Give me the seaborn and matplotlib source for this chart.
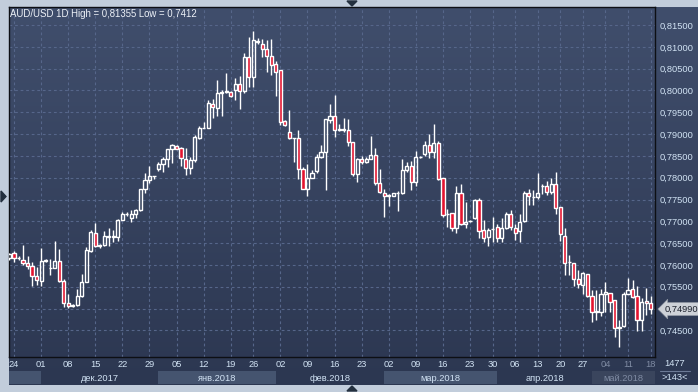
import numpy as np
import matplotlib
matplotlib.use("Agg")
import matplotlib.pyplot as plt
import matplotlib.transforms as mtransforms
from matplotlib.colors import LinearSegmentedColormap
from matplotlib.patches import Polygon
import seaborn as sns

# AUD/USD daily candles (first one is cut by the left edge of the chart)
opens = [0.7617, 0.7627, 0.7616, 0.7611, 0.7604, 0.7597, 0.7574, 0.7563, 0.7610, 0.7592,
         0.7593, 0.7609, 0.7563, 0.7513, 0.7507, 0.7509, 0.7529, 0.7561, 0.7633, 0.7673,
         0.7644, 0.7646, 0.7665, 0.7665, 0.7665, 0.7704, 0.7716, 0.7707, 0.7717, 0.7726,
         0.7774, 0.7794, 0.7805, 0.7819, 0.7832, 0.7842, 0.7865, 0.7873, 0.7869, 0.7844,
         0.7823, 0.7840, 0.7890, 0.7914, 0.7915, 0.7970, 0.7960, 0.7995, 0.7996, 0.7997,
         0.8001, 0.8016, 0.7999, 0.8076, 0.8031, 0.8112, 0.8106, 0.8096, 0.8079, 0.8060,
         0.8047, 0.7929, 0.7904, 0.7890, 0.7892, 0.7821, 0.7775, 0.7800, 0.7816, 0.7848,
         0.7860, 0.7933, 0.7941, 0.7910, 0.7911, 0.7910, 0.7881, 0.7808, 0.7844, 0.7835,
         0.7844, 0.7851, 0.7787, 0.7766, 0.7759, 0.7758, 0.7764, 0.7766, 0.7817, 0.7826,
         0.7791, 0.7847, 0.7854, 0.7874, 0.7860, 0.7879, 0.7799, 0.7716, 0.7719, 0.7684,
         0.7765, 0.7695, 0.7700, 0.7708, 0.7750, 0.7681, 0.7665, 0.7682, 0.7687, 0.7662,
         0.7685, 0.7716, 0.7685, 0.7678, 0.7700, 0.7764, 0.7757, 0.7757, 0.7781, 0.7781,
         0.7767, 0.7786, 0.7733, 0.7667, 0.7606, 0.7605, 0.7567, 0.7554, 0.7579, 0.7530,
         0.7493, 0.7493, 0.7533, 0.7535, 0.7519, 0.7455, 0.7460, 0.7534, 0.7544, 0.7528,
         0.7473, 0.7517, 0.7512]
highs = [0.7628, 0.7633, 0.7620, 0.7646, 0.7620, 0.7606, 0.7595, 0.7639, 0.7613, 0.7613,
         0.7654, 0.7636, 0.7568, 0.7534, 0.7511, 0.7545, 0.7580, 0.7641, 0.7680, 0.7696,
         0.7648, 0.7677, 0.7685, 0.7681, 0.7705, 0.7722, 0.7721, 0.7726, 0.7729, 0.7775,
         0.7812, 0.7826, 0.7805, 0.7836, 0.7847, 0.7867, 0.7878, 0.7876, 0.7871, 0.7869,
         0.7848, 0.7897, 0.7918, 0.7927, 0.7979, 0.7981, 0.8025, 0.8000, 0.8039, 0.7999,
         0.8028, 0.8033, 0.8087, 0.8122, 0.81355, 0.8120, 0.8119, 0.8115, 0.8119, 0.8068,
         0.8047, 0.7932, 0.7955, 0.7892, 0.7910, 0.7825, 0.7831, 0.7818, 0.7854, 0.7875,
         0.7934, 0.7969, 0.7989, 0.7923, 0.7936, 0.7934, 0.7881, 0.7846, 0.7850, 0.7848,
         0.7896, 0.7869, 0.7819, 0.7774, 0.7762, 0.7764, 0.7770, 0.7842, 0.7837, 0.7839,
         0.7861, 0.7850, 0.7884, 0.7901, 0.7923, 0.7885, 0.7799, 0.7729, 0.7720, 0.7781,
         0.7786, 0.7745, 0.7702, 0.7752, 0.7754, 0.7703, 0.7684, 0.7709, 0.7695, 0.7708,
         0.7722, 0.7727, 0.7695, 0.7716, 0.7770, 0.7775, 0.7773, 0.7812, 0.7786, 0.7792,
         0.7799, 0.7813, 0.7733, 0.7685, 0.7622, 0.7605, 0.7589, 0.7585, 0.7579, 0.7542,
         0.7542, 0.7544, 0.7562, 0.7536, 0.7520, 0.7474, 0.7538, 0.7570, 0.7566, 0.7551,
         0.7524, 0.7548, 0.7528]
lows = [0.7612, 0.7606, 0.7612, 0.7600, 0.7591, 0.7551, 0.7555, 0.7551, 0.7608, 0.7577,
        0.7592, 0.7561, 0.7504, 0.7501, 0.7504, 0.7507, 0.7527, 0.7561, 0.7629, 0.7641,
        0.7640, 0.7644, 0.7644, 0.7652, 0.7655, 0.7703, 0.7713, 0.7699, 0.7707, 0.7724,
        0.7764, 0.7789, 0.7798, 0.7815, 0.7813, 0.7825, 0.7833, 0.7865, 0.7826, 0.7806,
        0.7808, 0.7836, 0.7888, 0.7913, 0.7915, 0.7937, 0.7941, 0.7941, 0.7994, 0.7984,
        0.7978, 0.7957, 0.7995, 0.8009, 0.8007, 0.8106, 0.8076, 0.8043, 0.8035, 0.7987,
        0.7920, 0.7918, 0.7888, 0.7835, 0.7796, 0.7774, 0.7758, 0.7799, 0.7812, 0.7846,
        0.7772, 0.7925, 0.7894, 0.7907, 0.7905, 0.7873, 0.7804, 0.7791, 0.7832, 0.7833,
        0.7843, 0.7784, 0.7764, 0.7710, 0.7735, 0.7758, 0.7724, 0.7762, 0.7814, 0.7772,
        0.7781, 0.7845, 0.7850, 0.7846, 0.7846, 0.7795, 0.7710, 0.7686, 0.7678, 0.7673,
        0.7691, 0.7685, 0.7698, 0.7706, 0.7662, 0.7653, 0.7643, 0.7653, 0.7652, 0.7652,
        0.7683, 0.7681, 0.7657, 0.7652, 0.7698, 0.7737, 0.7737, 0.7752, 0.7762, 0.7760,
        0.7763, 0.7718, 0.7655, 0.7578, 0.7578, 0.7552, 0.7548, 0.7533, 0.7527, 0.7470,
        0.7474, 0.7484, 0.7493, 0.7493, 0.7434, 0.7412, 0.7457, 0.7533, 0.7524, 0.7449,
        0.7448, 0.7486, 0.7487]
closes = [0.7626, 0.7616, 0.7617, 0.7605, 0.7598, 0.7574, 0.7566, 0.7609, 0.7611, 0.7594,
          0.7609, 0.7563, 0.7513, 0.7506, 0.7508, 0.7529, 0.7561, 0.7635, 0.7675, 0.7644,
          0.7645, 0.7666, 0.7666, 0.7666, 0.7704, 0.7717, 0.7717, 0.7717, 0.7727, 0.7774,
          0.7794, 0.7804, 0.7803, 0.7832, 0.7842, 0.7865, 0.7875, 0.7867, 0.7845, 0.7823,
          0.7840, 0.7893, 0.7913, 0.7915, 0.7972, 0.7962, 0.7995, 0.7996, 0.7998, 0.7987,
          0.8016, 0.7999, 0.8076, 0.8031, 0.8116, 0.8113, 0.8096, 0.8078, 0.8059, 0.8043,
          0.7928, 0.7920, 0.7890, 0.7891, 0.7821, 0.7775, 0.7800, 0.7812, 0.7848, 0.7860,
          0.7934, 0.7941, 0.7909, 0.7911, 0.7910, 0.7881, 0.7808, 0.7844, 0.7835, 0.7844,
          0.7851, 0.7787, 0.7767, 0.7759, 0.7760, 0.7764, 0.7765, 0.7817, 0.7826, 0.7791,
          0.7848, 0.7848, 0.7874, 0.7860, 0.7879, 0.7798, 0.7714, 0.7718, 0.7684, 0.7765,
          0.7695, 0.7699, 0.7701, 0.7750, 0.7678, 0.7662, 0.7680, 0.7683, 0.7662, 0.7685,
          0.7716, 0.7686, 0.7674, 0.7699, 0.7764, 0.7758, 0.7756, 0.7765, 0.7782, 0.7767,
          0.7786, 0.7731, 0.7672, 0.7605, 0.7606, 0.7567, 0.7556, 0.7582, 0.7529, 0.7493,
          0.7494, 0.7533, 0.7537, 0.7516, 0.7455, 0.7458, 0.7534, 0.7542, 0.7527, 0.7473,
          0.7516, 0.7512, 0.7499]

# x axis: weekly ticks (candle index) and month bands (first candle of each month)
tick_labels = ['24', '01', '08', '15', '22', '29', '05', '12', '19', '26', '02', '09', '16',
               '23', '02', '09', '16', '23', '30', '06', '13', '20', '27', '04', '11', '18']
tick_bars = [1, 7, 13, 19, 25, 31, 37, 43, 49, 54, 60, 66, 72, 78, 84, 90, 96, 102,
             107, 112, 117, 122, 127, 132, 137, 142]
month_labels = ['', 'дек.2017', 'янв.2018', 'фев.2018', 'мар.2018', 'апр.2018', 'май.2018']
month_starts = [0, 7, 33, 59, 83, 108, 129]
price_ticks = [0.745, 0.750, 0.755, 0.760, 0.765, 0.770, 0.775, 0.780,
               0.785, 0.790, 0.795, 0.800, 0.805, 0.810, 0.815]

sns.set_theme(style="dark")
plt.rcParams['font.family'] = ['Liberation Sans', 'DejaVu Sans']

W, H = 698, 392
FRAME = '#c2cddb'
TXT = '#d2e3f4'
DIM = '#7f8ba3'
RED = '#e3132f'
XLIM = (-0.22, 142.97)
YLIM = (0.73891, 0.81914)


def fx(px):
    return px / W


def fy(py):
    return 1 - py / H


fig = plt.figure(figsize=(W / 100, H / 100), dpi=100, facecolor=FRAME)

# dark gradient behind plot and both scales
bg = fig.add_axes([fx(8.5), fy(385), fx(698 - 8.5), (385 - 7) / H])
cmap = LinearSegmentedColormap.from_list('bg', ['#2c3751', '#404e6c'])
bg.imshow(np.linspace(0, 1, 256).reshape(-1, 1)[::-1], aspect='auto', cmap=cmap,
          extent=(0, 1, 0, 1))
bg.axis('off')

ax = fig.add_axes([fx(8.5), fy(357), fx(655 - 8.5), (357 - 7) / H])
ax.patch.set_alpha(0)

o = np.array(opens)
h = np.array(highs)
l = np.array(lows)
c = np.array(closes)
x = np.arange(len(o))
top = np.maximum(o, c)
bot = np.minimum(o, c)
up = c >= o

ax.vlines(x, top, h, color='white', lw=1, zorder=3)
ax.vlines(x, l, bot, color='white', lw=1, zorder=3)
ax.bar(x[up], (top - bot)[up], bottom=bot[up], width=0.7, facecolor='none',
       edgecolor='white', lw=1, zorder=4)
ax.bar(x[~up], (top - bot)[~up], bottom=bot[~up], width=0.7, facecolor=RED,
       edgecolor='white', lw=1, zorder=4)

# the price tag sits on top of the nearest scale label, so that one stays empty
last = closes[-1]
near = int(np.argmin(np.abs(np.array(price_ticks) - last)))
ylabels = [f"{v:.5f}".replace('.', ',') for v in price_ticks]
ylabels[near] = ''

ax.set_xlim(*XLIM)
ax.set_ylim(*YLIM)
ax.set_xticks(tick_bars)
ax.set_xticklabels(tick_labels)
ax.set_yticks(price_ticks)
ax.set_yticklabels(ylabels)
ax.yaxis.tick_right()
ax.grid(True, color='#56668a', ls=(0, (2.5, 2.5)), lw=0.8)
ax.set_axisbelow(True)
ax.tick_params(axis='y', length=0, pad=3, labelsize=6.7, labelcolor=TXT)
ax.tick_params(axis='x', length=0, pad=2.5, labelsize=6.7, labelcolor=TXT)
for lbl in ax.get_xticklabels()[-3:]:
    lbl.set_color(DIM)
for s in ax.spines.values():
    s.set_visible(True)
    s.set_color('#0d0f14')
    s.set_linewidth(1)

# last price tag
trans = mtransforms.blended_transform_factory(ax.transAxes, ax.transData)
ax.text(1 + 10 / 646.5, last, f"{last:.5f}".replace('.', ','),
        transform=trans, va='center', ha='left', fontsize=6.7, color='#1a1f2b',
        bbox=dict(boxstyle='larrow,pad=0.22', fc='#cdd1d7', ec='#8f96a2', lw=0.5),
        clip_on=False, zorder=6)

# month band under the dates
band = fig.add_axes([fx(8.5), fy(384), fx(655 - 8.5), 13 / H])
band.set_xlim(*XLIM)
band.set_ylim(0, 1)
band.axis('off')
ends = month_starts[1:] + [XLIM[1]]
for i, (lab, s, e) in enumerate(zip(month_labels, month_starts, ends)):
    if i == len(month_labels) - 1:
        band.axvspan(s, e, color='#3a455d', lw=0)
        col = DIM
    else:
        if i % 2 == 0:
            band.axvspan(s, e, color='#45546f', lw=0)
        col = TXT
    band.text((s + e) / 2, 0.45, lab, ha='center', va='center', fontsize=6.7, color=col)

# bottom-right counters
fig.text(fx(675), fy(364), '1477', ha='center', va='center', fontsize=6.7, color=TXT)
fig.text(fx(675), fy(378), '>143<', ha='center', va='center', fontsize=6.7, color=TXT)

fig.text(fx(10), fy(14), 'AUD/USD 1D High = 0,81355 Low = 0,7412', ha='left',
         va='center', fontsize=6.9, color='#eef2f8')

# frame markers
ov = fig.add_axes([0, 0, 1, 1], zorder=10)
ov.set_xlim(0, W)
ov.set_ylim(H, 0)
ov.axis('off')
ov.plot([660, 690], [371, 371], color='#6c7a96', lw=0.8)
for tri in ([(347, 1), (357, 1), (352, 6)], [(347, 391), (357, 391), (352, 386)],
            [(1, 191), (1, 202), (6, 196.5)]):
    ov.add_patch(Polygon(tri, closed=True, color='#24303f'))

fig.savefig('out.png', dpi=100, facecolor=FRAME)
